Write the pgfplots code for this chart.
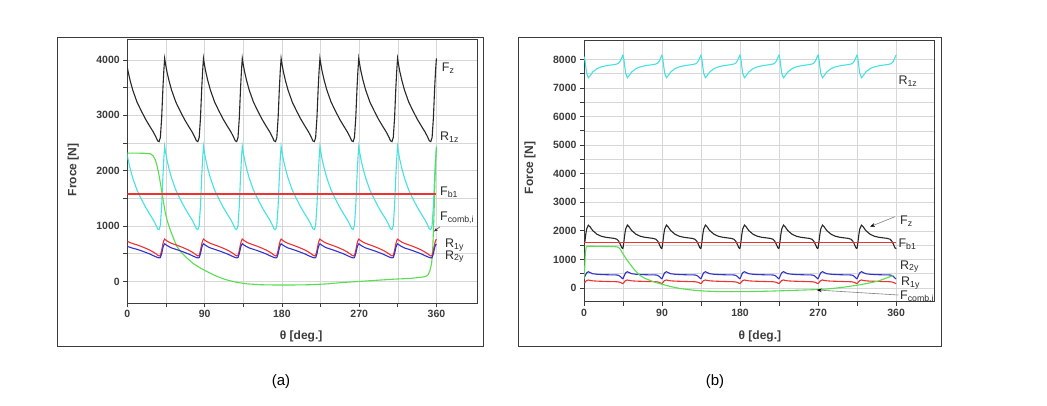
\documentclass[border=0pt]{standalone}
\usepackage{fontspec}
\setmainfont{Liberation Sans}
\usepackage{pgfplots}
\usepackage{pgfplotstable}
\pgfplotsset{compat=1.18}
\usetikzlibrary{arrows.meta}
\definecolor{fzc}{RGB}{40,40,40}
\definecolor{cyc}{RGB}{70,226,226}
\definecolor{rdc}{RGB}{238,50,50}
\definecolor{grc}{RGB}{90,222,80}
\definecolor{blc}{RGB}{50,50,205}
\definecolor{gridc}{RGB}{215,215,215}
\definecolor{axc}{RGB}{60,60,60}
\definecolor{labc}{RGB}{45,45,45}

\pgfplotstableread{
th Fz R1z R1y R2y
-1.7 4030 2440 740 650
-0.7 3930 2340 730 640
0.8 3800 2210 720 630
3.3 3630 2040 700 615
6.3 3460 1870 684 600
11.3 3240 1650 660 580
16.3 3080 1490 632 554
21.3 2930 1340 600 525
26.3 2800 1210 565 495
30.3 2700 1110 530 465
33.3 2610 1020 500 445
35.3 2540 950 475 432
37.0 2527 937 460 425
38.5 2600 1010 470 430
40.0 2950 1360 560 500
41.5 3500 1910 680 610
42.5 3800 2210 735 655
43.5 4030 2440 765 680
44.5 3930 2340 752 668
46.0 3800 2210 735 652
48.5 3630 2040 710 628
51.5 3460 1870 688 605
56.5 3240 1650 660 580
61.5 3080 1490 632 554
66.5 2930 1340 600 525
71.5 2800 1210 565 495
75.5 2700 1110 530 465
78.5 2610 1020 500 445
80.5 2540 950 475 432
82.2 2527 937 460 425
83.7 2600 1010 470 430
85.2 2950 1360 560 500
86.7 3500 1910 680 610
87.7 3800 2210 735 655
88.7 4030 2440 765 680
89.7 3930 2340 752 668
91.2 3800 2210 735 652
93.7 3630 2040 710 628
96.7 3460 1870 688 605
101.7 3240 1650 660 580
106.7 3080 1490 632 554
111.7 2930 1340 600 525
116.7 2800 1210 565 495
120.7 2700 1110 530 465
123.7 2610 1020 500 445
125.7 2540 950 475 432
127.4 2527 937 460 425
128.9 2600 1010 470 430
130.4 2950 1360 560 500
131.9 3500 1910 680 610
132.9 3800 2210 735 655
133.9 4030 2440 765 680
134.9 3930 2340 752 668
136.4 3800 2210 735 652
138.9 3630 2040 710 628
141.9 3460 1870 688 605
146.9 3240 1650 660 580
151.9 3080 1490 632 554
156.9 2930 1340 600 525
161.9 2800 1210 565 495
165.9 2700 1110 530 465
168.9 2610 1020 500 445
170.9 2540 950 475 432
172.6 2527 937 460 425
174.1 2600 1010 470 430
175.6 2950 1360 560 500
177.1 3500 1910 680 610
178.1 3800 2210 735 655
179.1 4030 2440 765 680
180.1 3930 2340 752 668
181.6 3800 2210 735 652
184.1 3630 2040 710 628
187.1 3460 1870 688 605
192.1 3240 1650 660 580
197.1 3080 1490 632 554
202.1 2930 1340 600 525
207.1 2800 1210 565 495
211.1 2700 1110 530 465
214.1 2610 1020 500 445
216.1 2540 950 475 432
217.8 2527 937 460 425
219.3 2600 1010 470 430
220.8 2950 1360 560 500
222.3 3500 1910 680 610
223.3 3800 2210 735 655
224.3 4030 2440 765 680
225.3 3930 2340 752 668
226.8 3800 2210 735 652
229.3 3630 2040 710 628
232.3 3460 1870 688 605
237.3 3240 1650 660 580
242.3 3080 1490 632 554
247.3 2930 1340 600 525
252.3 2800 1210 565 495
256.3 2700 1110 530 465
259.3 2610 1020 500 445
261.3 2540 950 475 432
263.0 2527 937 460 425
264.5 2600 1010 470 430
266.0 2950 1360 560 500
267.5 3500 1910 680 610
268.5 3800 2210 735 655
269.5 4030 2440 765 680
270.5 3930 2340 752 668
272.0 3800 2210 735 652
274.5 3630 2040 710 628
277.5 3460 1870 688 605
282.5 3240 1650 660 580
287.5 3080 1490 632 554
292.5 2930 1340 600 525
297.5 2800 1210 565 495
301.5 2700 1110 530 465
304.5 2610 1020 500 445
306.5 2540 950 475 432
308.2 2527 937 460 425
309.7 2600 1010 470 430
311.2 2950 1360 560 500
312.7 3500 1910 680 610
313.7 3800 2210 735 655
314.7 4030 2440 765 680
315.7 3930 2340 752 668
317.2 3800 2210 735 652
319.7 3630 2040 710 628
322.7 3460 1870 688 605
327.7 3240 1650 660 580
332.7 3080 1490 632 554
337.7 2930 1340 600 525
342.7 2800 1210 565 495
346.7 2700 1110 530 465
349.7 2610 1020 500 445
351.7 2540 950 475 432
353.4 2527 937 460 425
354.9 2600 1010 470 430
356.4 2950 1360 560 500
357.9 3500 1910 680 610
358.9 3800 2210 735 655
359.9 4030 2440 765 680
}\tabA

\pgfplotstableread{
th F
0 2318
10 2318
20 2315
27 2305
30 2270
32.6 2197
34.5 2100
36.5 1957
38.5 1780
40.4 1596
42.5 1400
44.3 1235
47 1070
50 933
54 770
57.8 632
63 520
69.5 422
77 320
85 242
95 160
104.4 90
115 30
127.7 -18
140 -45
154.8 -60
173 -65
190 -65
213 -60
232 -45
252 -18
270 0
290 20
310 40
330 55
344.6 80
348 95
350.4 121
352.5 200
354.4 332
355.5 550
356.2 812
357.2 1250
358 1715
359 2150
360 2420
}\tabAg

\pgfplotstableread{
th F
0 1585
360 1585
}\tabAf

\pgfplotstableread{
th R1z Fz R2y R1y
0 8100 1550 380 220
1 8000 1620 400 190
2 7750 1870 470 230
3 7520 2060 530 260
5 7360 2200 570 280
7 7430 2140 540 265
10 7560 2010 500 250
15 7680 1880 480 240
20 7740 1810 470 235
25 7775 1775 465 230
30 7800 1755 460 225
35 7820 1735 458 222
38 7840 1705 455 218
40 7870 1640 440 210
42 7950 1520 400 195
43.5 8060 1410 350 170
44.5 8130 1385 325 155
45 8150 1400 330 160
46 8000 1620 400 190
47 7750 1870 470 230
48 7520 2060 530 260
50 7360 2200 570 280
52 7430 2140 540 265
55 7560 2010 500 250
60 7680 1880 480 240
65 7740 1810 470 235
70 7775 1775 465 230
75 7800 1755 460 225
80 7820 1735 458 222
83 7840 1705 455 218
85 7870 1640 440 210
87 7950 1520 400 195
88.5 8060 1410 350 170
89.5 8130 1385 325 155
90 8150 1400 330 160
91 8000 1620 400 190
92 7750 1870 470 230
93 7520 2060 530 260
95 7360 2200 570 280
97 7430 2140 540 265
100 7560 2010 500 250
105 7680 1880 480 240
110 7740 1810 470 235
115 7775 1775 465 230
120 7800 1755 460 225
125 7820 1735 458 222
128 7840 1705 455 218
130 7870 1640 440 210
132 7950 1520 400 195
133.5 8060 1410 350 170
134.5 8130 1385 325 155
135 8150 1400 330 160
136 8000 1620 400 190
137 7750 1870 470 230
138 7520 2060 530 260
140 7360 2200 570 280
142 7430 2140 540 265
145 7560 2010 500 250
150 7680 1880 480 240
155 7740 1810 470 235
160 7775 1775 465 230
165 7800 1755 460 225
170 7820 1735 458 222
173 7840 1705 455 218
175 7870 1640 440 210
177 7950 1520 400 195
178.5 8060 1410 350 170
179.5 8130 1385 325 155
180 8150 1400 330 160
181 8000 1620 400 190
182 7750 1870 470 230
183 7520 2060 530 260
185 7360 2200 570 280
187 7430 2140 540 265
190 7560 2010 500 250
195 7680 1880 480 240
200 7740 1810 470 235
205 7775 1775 465 230
210 7800 1755 460 225
215 7820 1735 458 222
218 7840 1705 455 218
220 7870 1640 440 210
222 7950 1520 400 195
223.5 8060 1410 350 170
224.5 8130 1385 325 155
225 8150 1400 330 160
226 8000 1620 400 190
227 7750 1870 470 230
228 7520 2060 530 260
230 7360 2200 570 280
232 7430 2140 540 265
235 7560 2010 500 250
240 7680 1880 480 240
245 7740 1810 470 235
250 7775 1775 465 230
255 7800 1755 460 225
260 7820 1735 458 222
263 7840 1705 455 218
265 7870 1640 440 210
267 7950 1520 400 195
268.5 8060 1410 350 170
269.5 8130 1385 325 155
270 8150 1400 330 160
271 8000 1620 400 190
272 7750 1870 470 230
273 7520 2060 530 260
275 7360 2200 570 280
277 7430 2140 540 265
280 7560 2010 500 250
285 7680 1880 480 240
290 7740 1810 470 235
295 7775 1775 465 230
300 7800 1755 460 225
305 7820 1735 458 222
308 7840 1705 455 218
310 7870 1640 440 210
312 7950 1520 400 195
313.5 8060 1410 350 170
314.5 8130 1385 325 155
315 8150 1400 330 160
316 8000 1620 400 190
317 7750 1870 470 230
318 7520 2060 530 260
320 7360 2200 570 280
322 7430 2140 540 265
325 7560 2010 500 250
330 7680 1880 480 240
335 7740 1810 470 235
340 7775 1775 465 230
345 7800 1755 460 225
350 7820 1735 458 222
353 7840 1705 455 218
355 7870 1640 440 210
357 7950 1520 400 195
358.5 8060 1410 350 170
359.5 8130 1385 325 155
360 8150 1400 330 160
}\tabB

\pgfplotstableread{
th F
0 300
0.8 700
1.5 1200
2.5 1430
4 1460
10 1460
20 1455
30 1450
36 1445
38 1440
40 1415
42 1350
44 1240
47 1100
50 960
53 840
57 680
60 580
64.6 440
70 340
80 220
91.5 115
100 50
110.8 -20
125 -75
140 -110
155 -125
170 -130
185 -128
200 -120
215 -110
230 -95
245 -80
260 -65
270 -55
280 -35
290 -5
300 30
310 75
318.5 115
330 180
340 250
349 350
357 440
}\tabBg

\pgfplotstableread{
th F
0 1590
360 1590
}\tabBf

\pgfplotsset{
  panel/.style={
    scale only axis, anchor=south west,
    xmin=0, tick align=outside,
    xtick pos=left, ytick pos=left,
    xtick={0,90,180,270,360},
    minor x tick num=1, minor y tick num=1,
    grid=both,
    major grid style={gridc, line width=0.6pt},
    minor grid style={gridc, line width=0.6pt},
    axis line style={axc, line width=0.8pt},
    major tick length=4pt, minor tick length=4pt,
    every tick/.style={axc, line width=0.7pt},
    tick label style={font=\bfseries\fontsize{10.5}{12}\selectfont, text=axc},
    /pgf/number format/assume math mode=true,
    /pgf/number format/1000 sep={},
    label style={font=\bfseries\fontsize{12}{14}\selectfont, text=axc},
    every axis plot/.append style={line width=1.1pt, no marks},
  }
}

\begin{document}
\begin{tikzpicture}[x=1pt,y=1pt]
\path[use as bounding box] (0,0) rectangle (1047,405);
\fill[white] (0,0) rectangle (1047,405);
\draw[axc, line width=0.8pt] (57,368) rectangle (483,59);
\draw[axc, line width=0.8pt] (518,368) rectangle (941,59);

\begin{axis}[panel, at={(127.3pt,102pt)}, width=350.4pt, height=264pt,
  xmax=408, ymin=-390, ymax=4380, ytick={0,1000,2000,3000,4000},
  xlabel={θ [deg.]}, ylabel={Froce [N]},
  xlabel style={at={(axis description cs:0.496,-0.128)}, anchor=center},
  ylabel style={at={(axis description cs:-0.154,0.504)}, anchor=center}]
\addplot[fzc] table[x=th, y=Fz] {\tabA};
\addplot[cyc] table[x=th, y=R1z] {\tabA};
\addplot[grc] table[x=th, y=F] {\tabAg};
\addplot[rdc] table[x=th, y=R1y] {\tabA};
\addplot[blc] table[x=th, y=R2y] {\tabA};
\addplot[rdc, line width=2.2pt] table[x=th, y=F] {\tabAf};
\end{axis}

\begin{axis}[panel, at={(584pt,103.3pt)}, width=350.3pt, height=261.7pt,
  xmax=404, ymin=-480, ymax=8680, ytick={0,1000,2000,3000,4000,5000,6000,7000,8000},
  xlabel={θ [deg.]}, ylabel={Force [N]},
  xlabel style={at={(axis description cs:0.502,-0.134)}, anchor=center},
  ylabel style={at={(axis description cs:-0.154,0.511)}, anchor=center}]
\addplot[cyc] table[x=th, y=R1z] {\tabB};
\addplot[fzc] table[x=th, y=Fz] {\tabB};
\addplot[draw=rdc] table[x=th, y=F] {\tabBf};
\addplot[blc] table[x=th, y=R2y] {\tabB};
\addplot[rdc] table[x=th, y=R1y] {\tabB};
\addplot[grc] table[x=th, y=F] {\tabBg};
\end{axis}

% curve labels (a)
\begin{scope}[every node/.style={anchor=base west, inner sep=0pt, text=labc, font=\fontsize{12.5}{14}\selectfont}]
\node at (441.7,333.7) {F\textsubscript{z}};
\node at (440,264.3) {R\textsubscript{1z}};
\node at (440,209.3) {F\textsubscript{b1}};
\node at (440,184.3) {F\textsubscript{comb,i}};
\node at (445,157.7) {R\textsubscript{1y}};
\node at (445,146) {R\textsubscript{2y}};
% (b)
\node at (898.3,320.3) {R\textsubscript{1z}};
\node at (900,180.3) {F\textsubscript{z}};
\node at (898.3,157.7) {F\textsubscript{b1}};
\node at (900,136) {R\textsubscript{2y}};
\node at (901,119.3) {R\textsubscript{1y}};
\node at (900,105.7) {F\textsubscript{comb,i}};
\end{scope}
\draw[labc, line width=0.5pt, -{Stealth[length=4pt,width=3pt]}] (440,178.3) -- (434,173.5);
\draw[gray, line width=0.6pt, -{Stealth[length=5pt,width=3.5pt,color=black]}] (895,188.3) -- (870,178.3);
\draw[gray, line width=0.6pt, -{Stealth[length=5pt,width=3.5pt,color=black]}] (898.3,110) -- (816.7,115);

\node[font=\fontsize{15}{17}\selectfont, text=black] at (281,23) {(a)};
\node[font=\fontsize{15}{17}\selectfont, text=black] at (715,23) {(b)};
\end{tikzpicture}
\end{document}
